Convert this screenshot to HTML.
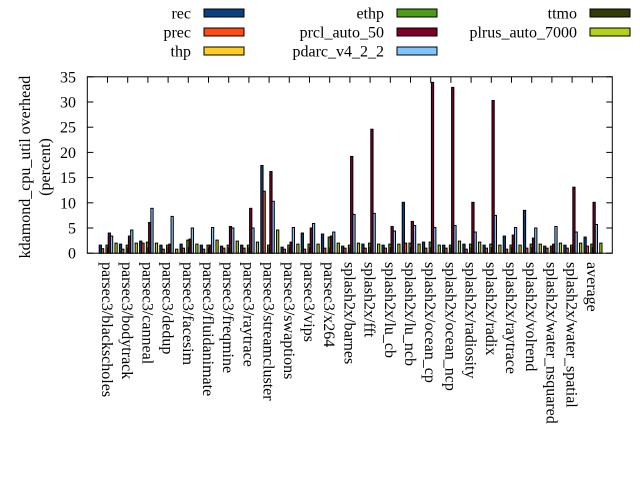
<!DOCTYPE html>
<html><head><meta charset="utf-8"><style>
html,body{margin:0;padding:0;background:#fff;}
svg{display:block;font-family:"Liberation Serif",serif;}
</style></head><body>
<svg id="s" width="640" height="480" xmlns="http://www.w3.org/2000/svg"></svg>
<script>
const s=document.getElementById('s');
let h='';
const L=87.3,R=612.3,T=76.8,B=253.2,sp=20.2;
const Y=v=>B-v*(B-T)/35;
const X=i=>L+(i+1)*sp;
const names=["parsec3/blackscholes","parsec3/bodytrack","parsec3/canneal","parsec3/dedup","parsec3/facesim","parsec3/fluidanimate","parsec3/freqmine","parsec3/raytrace","parsec3/streamcluster","parsec3/swaptions","parsec3/vips","parsec3/x264","splash2x/barnes","splash2x/fft","splash2x/lu_cb","splash2x/lu_ncb","splash2x/ocean_cp","splash2x/ocean_ncp","splash2x/radiosity","splash2x/radix","splash2x/raytrace","splash2x/volrend","splash2x/water_nsquared","splash2x/water_spatial","average"];
// rec, prec, thp, ethp, prcl, pdarc, ttmo, plrus
const d=[
[1.6,0.9,0,1.6,4.0,3.4,0,2.0],
[1.8,0.8,0,1.6,3.4,4.6,0,2.0],
[2.4,2.0,0,2.2,6.1,8.9,0,2.0],
[1.6,0.8,0,1.6,1.8,7.3,0,0.8],
[1.8,1.0,0,2.6,2.8,5.0,0,1.8],
[1.6,0.8,0,1.6,1.6,5.1,0,2.6],
[1.4,1.0,0,1.6,5.3,5.0,0,2.4],
[1.6,1.0,0,1.6,8.9,5.0,0,2.2],
[17.4,12.3,0,1.6,16.2,10.3,0,4.6],
[1.2,0.8,0,1.6,2.2,5.1,0,1.8],
[4.0,0.8,0,1.8,5.0,5.9,0,1.8],
[3.8,1.0,0,3.2,3.4,4.2,0,2.0],
[1.4,1.0,0,1.6,19.2,7.7,0,2.0],
[1.8,1.0,0,2.0,24.6,7.9,0,1.8],
[1.6,1.0,0,1.8,5.3,4.4,0,1.8],
[10.1,2.0,0,2.0,6.3,5.5,0,1.8],
[2.2,1.0,0,2.2,33.9,5.1,0,1.6],
[1.6,1.0,0,1.6,32.9,5.5,0,2.4],
[1.8,0.8,0,1.8,10.1,4.2,0,2.2],
[1.6,1.0,0,1.8,30.3,7.5,0,1.6],
[3.4,0.8,0,1.6,3.6,5.1,0,1.6],
[8.5,1.0,0,1.8,3.0,5.0,0,1.8],
[1.4,1.0,0,1.4,1.8,5.3,0,2.0],
[1.6,1.0,0,1.6,13.1,4.2,0,2.0],
[3.2,1.4,0,1.8,10.1,5.7,0,2.0]];
const col=["#0b3f7e","#ff4a16","#ffcc22","#4e9a1a","#7a0024","#80c4ff","#333a08","#b3d11a"];
const bw=2.25;
d.forEach((g,i)=>{g.forEach((v,j)=>{if(v<=0)return;const x=X(i)-8.3+j*bw;const y=Y(v);
h+=`<rect x="${x.toFixed(2)}" y="${y.toFixed(2)}" width="${bw}" height="${(B-y).toFixed(2)}" fill="${col[j]}" stroke="#000" stroke-width="1"/>`;});});
// axes frame
h+=`<rect x="${L}" y="${T}" width="${R-L}" height="${B-T}" fill="none" stroke="#000" stroke-width="1"/>`;
for(let v=0;v<=35;v+=5){const y=Y(v);
 h+=`<line x1="${L}" y1="${y}" x2="${L+6}" y2="${y}" stroke="#000"/><line x1="${R}" y1="${y}" x2="${R-6}" y2="${y}" stroke="#000"/>`;
 h+=`<text x="76" y="${y+5.5}" font-size="16" text-anchor="end">${v}</text>`;}
names.forEach((n,i)=>{const x=X(i);
 h+=`<line x1="${x}" y1="${T}" x2="${x}" y2="${T+6}" stroke="#000"/><line x1="${x}" y1="${B}" x2="${x}" y2="${B-6}" stroke="#000"/>`;
 h+=`<text transform="translate(${(x-5.5).toFixed(2)},262) rotate(90)" font-size="16">${n}</text>`;});
h+=`<text transform="translate(30,167) rotate(-90)" font-size="16" text-anchor="middle">kdamond_cpu_util overhead</text>`;
h+=`<text transform="translate(50,167) rotate(-90)" font-size="16" text-anchor="middle">(percent)</text>`;
const leg=[["rec",191,204,13],["prec",191,204,32],["thp",191,204,51],["ethp",384,397,13],["prcl_auto_50",384,397,32],["pdarc_v4_2_2",384,397,51],["ttmo",577,590,13],["plrus_auto_7000",577,590,32]];
leg.forEach((l,k)=>{h+=`<text x="${l[1]}" y="${l[3]+5.5}" font-size="16" text-anchor="end">${l[0]}</text>`;
 h+=`<rect x="${l[2]}" y="${l[3]-4}" width="40" height="8" fill="${col[k]}" stroke="#000" stroke-width="1"/>`;});
s.innerHTML=h;
</script>
</body></html>
